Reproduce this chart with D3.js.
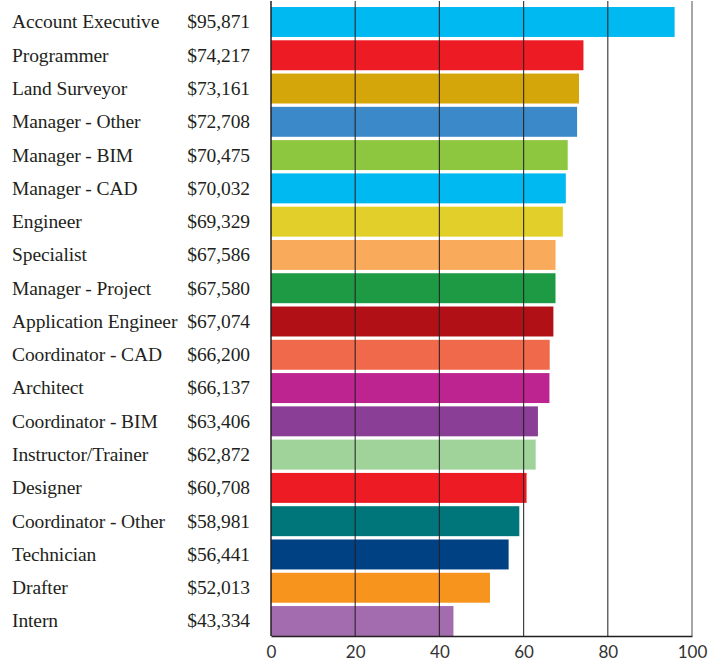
<!DOCTYPE html>
<html>
<head>
<meta charset="utf-8">
<script src="https://cdn.jsdelivr.net/npm/d3@7"></script>
<style>
  html, body { margin: 0; padding: 0; background: #fff; }
  svg { display: block; }
</style>
</head>
<body>
<svg id="chart" width="721" height="665"></svg>
<script>
// Average salary by job title (thousands of US dollars)
const titles = [
  "Account Executive", "Programmer", "Land Surveyor", "Manager - Other",
  "Manager - BIM", "Manager - CAD", "Engineer", "Specialist",
  "Manager - Project", "Application Engineer", "Coordinator - CAD", "Architect",
  "Coordinator - BIM", "Instructor/Trainer", "Designer", "Coordinator - Other",
  "Technician", "Drafter", "Intern"
];
const salaries = [
  95871, 74217, 73161, 72708, 70475, 70032, 69329, 67586, 67580, 67074,
  66200, 66137, 63406, 62872, 60708, 58981, 56441, 52013, 43334
];
const barColors = [
  "#00b9f1", "#ed1c24", "#d4a60a", "#3c89c9", "#8dc63f", "#00b9f1",
  "#e2cf2a", "#f9aa5b", "#1f9a44", "#b01016", "#f0694b", "#bd248f",
  "#8a3e96", "#9fd39a", "#ed1c24", "#00767a", "#004184", "#f7941e", "#a36cae"
];
const xTicks = [0, 20, 40, 60, 80, 100];

const rows = titles.map((t, i) => ({ title: t, salary: salaries[i], color: barColors[i] }));

const svg = d3.select("#chart");
const plotLeft = 271, plotRight = 692, plotTop = 1, plotBottom = 636;

const x = d3.scaleLinear().domain([0, 100]).range([plotLeft, plotRight]);
const y = d3.scaleBand().domain(titles).range([7, plotBottom]).paddingInner(0.1).paddingOuter(0);

const fmt = d3.format("$,");

// bars
svg.append("g").selectAll("rect").data(rows).join("rect")
  .attr("x", x(0))
  .attr("y", d => y(d.title))
  .attr("width", d => x(d.salary / 1000) - x(0))
  .attr("height", y.bandwidth())
  .attr("fill", d => d.color);

// vertical grid lines over the bars
svg.append("g").selectAll("line").data(xTicks.filter(v => v > 0 && v < 100)).join("line")
  .attr("x1", d => x(d)).attr("x2", d => x(d))
  .attr("y1", plotTop).attr("y2", plotBottom)
  .attr("stroke", "#231f20").attr("stroke-opacity", 0.85).attr("stroke-width", 1.2);

// right frame line
svg.append("line")
  .attr("x1", x(100)).attr("x2", x(100)).attr("y1", plotTop).attr("y2", plotBottom)
  .attr("stroke", "#8a8a8a").attr("stroke-width", 1.5);

// left axis line
svg.append("line")
  .attr("x1", x(0)).attr("x2", x(0)).attr("y1", plotTop).attr("y2", plotBottom)
  .attr("stroke", "#231f20").attr("stroke-width", 1.5);

// bottom axis
const xAxis = d3.axisBottom(x).tickValues(xTicks).tickSize(0).tickPadding(10);
const gx = svg.append("g").attr("transform", `translate(0,${plotBottom})`).call(xAxis);
gx.select(".domain").attr("stroke", "#231f20").attr("stroke-width", 1.5);
gx.selectAll("text")
  .attr("font-family", "Lato, 'Open Sans', sans-serif")
  .attr("font-size", 17)
  .attr("fill", "#333");

// row labels: job title and salary
const labels = svg.append("g")
  .attr("font-family", "'Liberation Serif', 'DejaVu Serif', serif")
  .attr("font-size", 19.5)
  .attr("letter-spacing", -0.1)
  .attr("fill", "#231f20");

labels.selectAll("text.title").data(rows).join("text")
  .attr("class", "title")
  .attr("x", 12)
  .attr("y", d => y(d.title) + y.bandwidth() / 2)
  .attr("dy", "0.33em")
  .text(d => d.title);

labels.selectAll("text.salary").data(rows).join("text")
  .attr("class", "salary")
  .attr("x", 250)
  .attr("text-anchor", "end")
  .attr("y", d => y(d.title) + y.bandwidth() / 2)
  .attr("dy", "0.33em")
  .text(d => fmt(d.salary));
</script>
</body>
</html>
